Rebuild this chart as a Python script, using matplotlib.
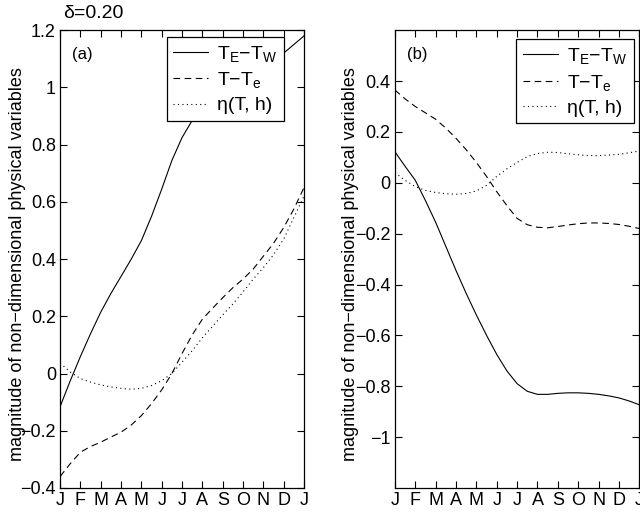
import numpy as np
import matplotlib
matplotlib.use("Agg")
import matplotlib.pyplot as plt

plt.rcParams["font.family"] = ["Liberation Sans", "DejaVu Sans"]
plt.rcParams["mathtext.fontset"] = "custom"
plt.rcParams["mathtext.rm"] = "Liberation Sans"
plt.rcParams["mathtext.it"] = "Liberation Sans"

# months from January to the following January, half-month steps
month = np.arange(0, 12.5, 0.5)
month_labels = ["J", "F", "M", "A", "M", "J", "J", "A", "S", "O", "N", "D", "J"]

# panel (a)
te_tw_a = [-0.115, -0.025, 0.06, 0.14, 0.215, 0.28, 0.34, 0.4, 0.465, 0.55, 0.645,
           0.745, 0.825, 0.885, 0.93, 0.97, 1.0, 1.028, 1.05, 1.07, 1.09, 1.105,
           1.12, 1.15, 1.18]
t_te_a = [-0.36, -0.315, -0.275, -0.255, -0.24, -0.222, -0.205, -0.18, -0.147,
          -0.105, -0.057, 0.0, 0.07, 0.135, 0.19, 0.228, 0.265, 0.30, 0.33, 0.365,
          0.41, 0.455, 0.51, 0.575, 0.65]
eta_a = [0.036, 0.005, -0.018, -0.03, -0.04, -0.047, -0.052, -0.055, -0.052,
         -0.042, -0.025, 0.0, 0.04, 0.08, 0.125, 0.165, 0.205, 0.243, 0.285, 0.33,
         0.37, 0.415, 0.47, 0.545, 0.62]

# panel (b)
te_tw_b = [0.122, 0.065, 0.01, -0.07, -0.155, -0.25, -0.345, -0.435, -0.52, -0.6,
           -0.675, -0.74, -0.79, -0.82, -0.832, -0.832, -0.828, -0.826, -0.826,
           -0.828, -0.832, -0.838, -0.846, -0.858, -0.873]
t_te_b = [0.365, 0.33, 0.30, 0.275, 0.25, 0.215, 0.175, 0.13, 0.08, 0.025, -0.035,
          -0.09, -0.14, -0.165, -0.175, -0.177, -0.172, -0.166, -0.161, -0.158,
          -0.158, -0.16, -0.164, -0.171, -0.18]
eta_b = [0.04, 0.01, -0.015, -0.03, -0.038, -0.043, -0.045, -0.042, -0.032, -0.01,
         0.025, 0.055, 0.08, 0.103, 0.115, 0.12, 0.119, 0.114, 0.11, 0.107, 0.107,
         0.109, 0.112, 0.118, 0.125]

labels = ["T$_\\mathregular{E}$\u2212T$_\\mathregular{W}$",
          "T\u2212T$_\\mathregular{e}$",
          "\u03b7(T, h)"]
ylabel = "magnitude of non\u2212dimensional physical variables"


def draw_panel(ax, series, ylim, yticks, tag, legend_box, label_x):
    styles = [dict(linestyle="-"),
              dict(linestyle=(0, (6, 4))),
              dict(linestyle=(0, (1, 3)))]
    for vals, lab, st in zip(series, labels, styles):
        ax.plot(month, vals, color="black", linewidth=0.8, label=lab, **st)
    ax.set_xlim(0, 12)
    ax.set_ylim(*ylim)
    ax.set_xticks(range(13))
    ax.set_xticklabels(month_labels)
    ax.set_yticks(yticks)
    ax.set_yticklabels([f"{v:g}".replace("-", "\u2212") for v in yticks])
    ax.tick_params(direction="in", top=True, right=True, length=5, width=0.8,
                   labelsize=13, pad=3)
    for sp in ax.spines.values():
        sp.set_linewidth(0.9)
    ax.set_ylabel(ylabel, fontsize=13, va="center")
    ax.yaxis.set_label_coords(label_x, 0.49)
    ax.text(0.048, 0.963, tag, transform=ax.transAxes, fontsize=12, va="top")
    leg = ax.legend(loc="upper right", bbox_to_anchor=legend_box, fontsize=14,
                    frameon=True, fancybox=False, handlelength=1.8,
                    handletextpad=0.45, labelspacing=0.33, borderpad=0.35,
                    borderaxespad=0.0, framealpha=1.0)
    leg.get_frame().set_edgecolor("black")
    leg.get_frame().set_linewidth(0.9)


fig = plt.figure(figsize=(6.4, 5.12), dpi=100)
ax_a = fig.add_axes([0.094, 0.047, 0.381, 0.894])
ax_b = fig.add_axes([0.617, 0.047, 0.382, 0.894])

draw_panel(ax_a, [te_tw_a, t_te_a, eta_a], (-0.4, 1.2),
           [-0.4, -0.2, 0, 0.2, 0.4, 0.6, 0.8, 1, 1.2], "(a)", (0.918, 0.985),
           -0.176)
draw_panel(ax_b, [te_tw_b, t_te_b, eta_b], (-1.2, 0.6),
           [-1, -0.8, -0.6, -0.4, -0.2, 0, 0.2, 0.4], "(b)", (0.977, 0.98),
           -0.183)

fig.text(0.098, 0.974, "\u03b4=0.20", fontsize=14, va="center", ha="left")

fig.savefig("out.png", dpi=100)
